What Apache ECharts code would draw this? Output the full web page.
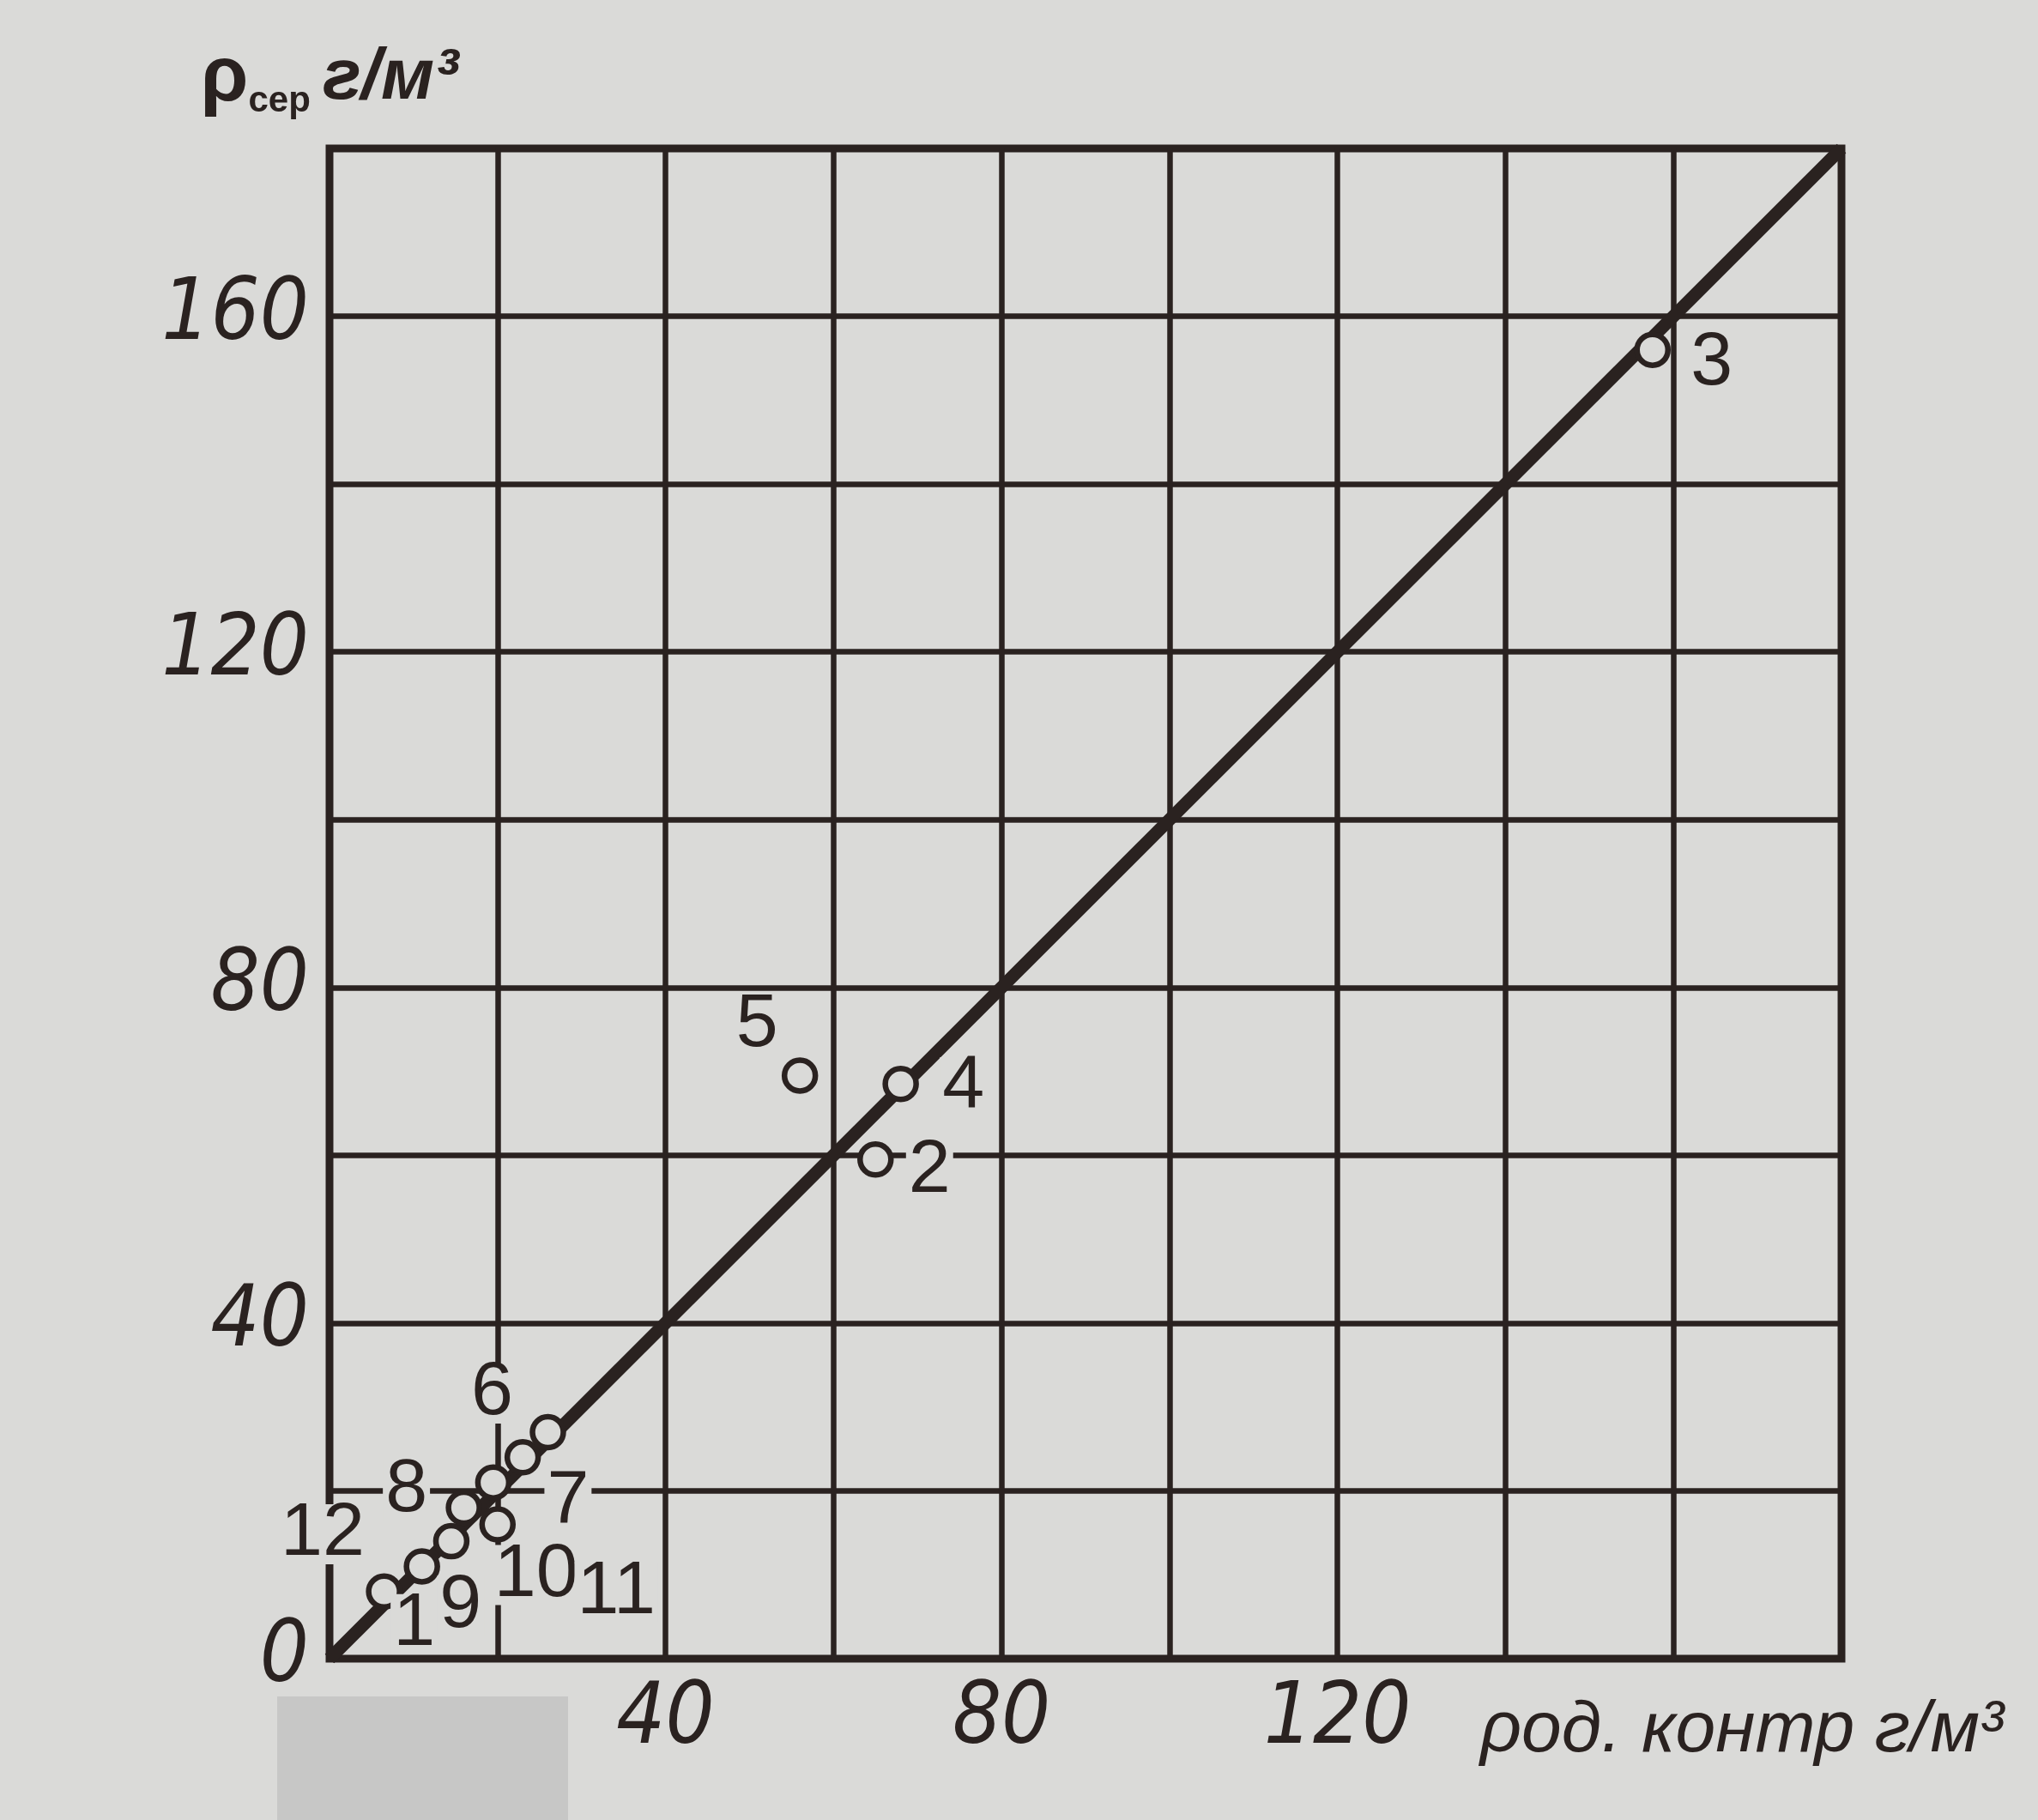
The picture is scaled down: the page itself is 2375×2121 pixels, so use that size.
<!DOCTYPE html>
<html>
<head>
<meta charset="utf-8">
<script src="https://cdn.jsdelivr.net/npm/echarts@6/dist/echarts.min.js"></script>
<style>
  html, body { margin: 0; padding: 0; background: #dadad8; }
  #chart { width: 2375px; height: 2121px; }
</style>
</head>
<body>
<div id="chart"></div>
<script>
// ---- data ----
const pointIds = ['1', '9', '12', '8', '10', '7', '11', '6', '5', '4', '2', '3'];
const xValues  = [6.5, 11, 14.5, 16, 20, 19.5, 23, 26, 56, 68, 65, 157.5];
const yValues  = [8, 11, 14, 18, 16, 21, 24, 27, 69.5, 68.5, 59.5, 156];
const identityLine = [0, 180];           // y = x reference line, from..to
const xTickLabels = [40, 80, 120];
const yTickLabels = [0, 40, 80, 120, 160];
const axisMin = 0, axisMax = 180, gridStep = 20;
const xAxisName = 'ρод. контр г/м³';

// ---- styles ----
const INK = '#2a2220';
const PAPER = '#dadad8';
const NARROW = "'Liberation Sans Narrow', 'DejaVu Sans Condensed', 'Liberation Sans', sans-serif";
const SANS = "'Liberation Sans', 'DejaVu Sans', sans-serif";
const labelOffsets = {
  '1': [35, 38], '9': [45, 46], '12': [-150, -8], '8': [-67, -20],
  '10': [45, 59], '7': [87, 23], '11': [109, 157], '6': [-65, -45],
  '5': [-50, -59], '4': [73, 4], '2': [63, 14], '3': [69, 16]
};

const points = pointIds.map((id, i) => ({
  name: id,
  value: [xValues[i], yValues[i]],
  label: { offset: labelOffsets[id] }
}));

const chart = echarts.init(document.getElementById('chart'), null, { renderer: 'canvas' });

const option = {
  backgroundColor: PAPER,
  animation: false,
  grid: {
    left: 384, right: 229, top: 173, bottom: 188,
    show: true, borderColor: INK, borderWidth: 9, backgroundColor: 'transparent'
  },
  xAxis: {
    type: 'value', min: axisMin, max: axisMax, interval: gridStep,
    axisLine: { show: false }, axisTick: { show: false },
    splitLine: { show: true, lineStyle: { color: INK, width: 6.5 } },
    axisLabel: {
      margin: 22, color: INK, fontSize: 100, fontStyle: 'italic', fontFamily: NARROW,
      formatter: v => xTickLabels.includes(v) ? String(v) : ''
    },
    name: xAxisName,
    nameLocation: 'end',
    nameGap: -421,
    nameMoveOverlap: false,
    nameTextStyle: {
      color: INK, fontSize: 84, fontStyle: 'italic', fontFamily: SANS,
      align: 'left', verticalAlign: 'top', lineHeight: 170
    }
  },
  yAxis: {
    type: 'value', min: axisMin, max: axisMax, interval: gridStep,
    axisLine: { show: false }, axisTick: { show: false },
    splitLine: { show: true, lineStyle: { color: INK, width: 6.5 } },
    axisLabel: {
      margin: 24, color: INK, fontSize: 100, fontStyle: 'italic', fontFamily: NARROW,
      formatter: v => yTickLabels.includes(v) ? String(v) : ''
    },
    name: '{r|ρ}{s|сер}{u|г/м³}',
    nameLocation: 'end',
    nameGap: 34,
    nameMoveOverlap: false,
    nameTextStyle: {
      color: INK, fontFamily: SANS,
      rich: {
        r: { fontSize: 90, fontWeight: 'bold', color: INK, fontFamily: SANS, lineHeight: 94, verticalAlign: 'middle' },
        s: { fontSize: 42, fontWeight: 'bold', color: INK, fontFamily: SANS, lineHeight: 44, verticalAlign: 'bottom', padding: [0, 14, 0, 0] },
        u: { fontSize: 84, fontWeight: 'bold', fontStyle: 'italic', color: INK, fontFamily: SANS, lineHeight: 94, verticalAlign: 'middle' }
      }
    }
  },
  graphic: [
    { type: 'rect', z: 100, shape: { x: 323, y: 1977, width: 339, height: 144 }, style: { fill: '#c7c7c6' } }
  ],
  series: [
    {
      type: 'line',
      data: [[identityLine[0], identityLine[0]], [identityLine[1], identityLine[1]]],
      symbol: 'none',
      lineStyle: { color: INK, width: 15 },
      z: 3,
      silent: true
    },
    {
      type: 'scatter',
      data: points,
      symbol: 'circle',
      symbolSize: 36,
      itemStyle: { color: PAPER, borderColor: INK, borderWidth: 6.5, opacity: 1 },
      z: 5,
      label: {
        show: true,
        formatter: '{b}',
        position: 'inside',
        color: INK,
        fontSize: 88,
        fontFamily: SANS,
        lineHeight: 70,
        backgroundColor: PAPER,
        padding: [0, 3]
      }
    }
  ]
};

chart.setOption(option);
</script>
</body>
</html>
